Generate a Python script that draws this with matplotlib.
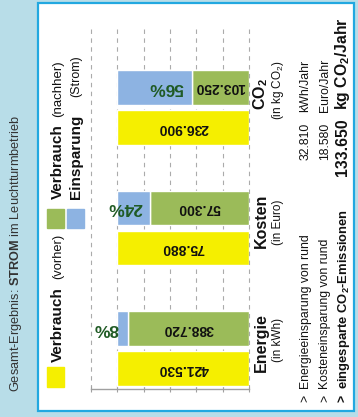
"""
Gesamt-Ergebnis STROM im Leuchtturmbetrieb: vorher / nachher / Einsparung
als gestapelte Balken (je Kategorie auf "vorher" = 100 % normiert).
Das Blatt ist quer gesetzt, alle Texte laufen von unten nach oben.
"""
import numpy as np
import matplotlib
matplotlib.use("Agg")
import matplotlib.pyplot as plt
from matplotlib.patches import Rectangle

plt.rcParams["font.family"] = ["Liberation Sans", "DejaVu Sans"]
plt.rcParams["mathtext.fontset"] = "custom"
plt.rcParams["mathtext.rm"] = "Liberation Sans"
plt.rcParams["mathtext.it"] = "Liberation Sans:italic"
plt.rcParams["mathtext.bf"] = "Liberation Sans:bold"

# ----------------------------------------------------------------------
# data
# ----------------------------------------------------------------------
categories = ["Energie", "Kosten", "CO$_\\mathbf{2}$"]
units = ["(in kWh)", "(in Euro)", "(in kg CO$_2$)"]
vorher = np.array([421530, 75880, 236900])    # Verbrauch vorher
nachher = np.array([388720, 57300, 103250])   # Verbrauch nachher
summary_text = ["Energieeinsparung von rund",
                "Kosteneinsparung von rund",
                "eingesparte CO$_\\mathbf{2}$-Emissionen"]
summary_unit = ["kWh/Jahr", "Euro/Jahr", "kg CO$_\\mathbf{2}$/Jahr"]

savings = vorher - nachher
base_pct = vorher / vorher * 100
after_pct = nachher / vorher * 100
saved_pct = np.round(savings / vorher * 100).astype(int)

# ----------------------------------------------------------------------
# style
# ----------------------------------------------------------------------
BG = "#b8dde8"
FRAME = "#22a8e0"
YELLOW = "#f5ef00"
GREEN = "#9bbb59"
BLUE = "#8db3e2"
PCT = "#1f5a24"
INK = "#111111"
GREY = "#333333"
GRID = "#ababab"

W, H = 358, 417          # canvas in px


def fx(x):
    return x / W


def fy(y):
    return 1 - y / H


def de(n):
    """German thousands separator."""
    return f"{int(n):,}".replace(",", ".")


fig = plt.figure(figsize=(W / 100, H / 100), dpi=100, facecolor=BG)

# white sheet with blue frame
fig.patches.append(Rectangle((fx(38), fy(411)), (354 - 38) / W, (411 - 3) / H,
                             transform=fig.transFigure, facecolor="white",
                             edgecolor=FRAME, lw=1.6, zorder=-10))


def vtext(x, y, s, size, weight="normal", color=INK, ha="left"):
    # x = baseline, y = start of the text (it runs upward)
    return fig.text(fx(x), fy(y), s, rotation=90, rotation_mode="anchor",
                    ha=ha, va="baseline", fontsize=size,
                    fontweight=weight, color=color)


# ----------------------------------------------------------------------
# bars
# ----------------------------------------------------------------------
ax = fig.add_axes([fx(91), fy(389), (249 - 91) / W, (389 - 27) / H])
ax.patch.set_visible(False)
ax.set_xlim(120, 0)
ax.set_ylim(-0.336, 2.668)

pos = np.arange(len(categories))
off, bh = 0.166, 0.29

ax.barh(pos - off, base_pct, height=bh, color=YELLOW, edgecolor="white", lw=1)
ax.barh(pos + off, after_pct, height=bh, color=GREEN, edgecolor="white", lw=1)
ax.barh(pos + off, base_pct - after_pct, left=after_pct, height=bh,
        color=BLUE, edgecolor="white", lw=1)

for i in pos:
    ax.text(base_pct[i] / 2, pos[i] - off, de(vorher[i]), rotation=180,
            ha="center", va="center", fontsize=10, fontweight="bold", color=INK)
    ax.text(after_pct[i] / 2, pos[i] + off, de(nachher[i]), rotation=180,
            ha="center", va="center", fontsize=10, fontweight="bold", color=INK)

pct_x = [108.8, 94.6, 63.1]      # where the savings labels sit
for i in pos:
    ax.text(pct_x[i], pos[i] + off, f"{saved_pct[i]}%", rotation=180,
            ha="center", va="center", fontsize=12.5, fontweight="bold",
            color=PCT)

ax.set_xticks(np.arange(0, 121, 20))
ax.set_yticks([])
ax.xaxis.grid(True, linestyle=(0, (4, 4)), color=GRID, lw=0.8)
for gl in ax.get_xgridlines():
    gl.set_clip_on(False)
ax.set_axisbelow(True)
ax.tick_params(axis="x", labelbottom=False, direction="inout", length=5,
               width=0.8, color="#a0a0a0")
for side in ("top", "left", "right"):
    ax.spines[side].set_visible(False)
ax.spines["bottom"].set_color("#a0a0a0")
ax.spines["bottom"].set_linewidth(1.0)

# ----------------------------------------------------------------------
# texts
# ----------------------------------------------------------------------
vtext(18.5, 392, "Gesamt-Ergebnis: $\\mathbf{STROM}$ im Leuchtturmbetrieb",
      9.2, color=GREY)

# legend
fig.patches.append(Rectangle((fx(47), fy(387)), 17 / W, 20 / H,
                             transform=fig.transFigure, color=YELLOW))
fig.patches.append(Rectangle((fx(47), fy(228)), 17 / W, 19 / H,
                             transform=fig.transFigure, color=GREEN))
fig.patches.append(Rectangle((fx(67), fy(228)), 17 / W, 19 / H,
                             transform=fig.transFigure, color=BLUE))
vtext(61.5, 362, "Verbrauch", 11, "bold")
vtext(61.5, 279, "(vorher)", 9.3)
vtext(61.5, 199, "Verbrauch", 11, "bold")
vtext(61.5, 117, "(nachher)", 9.5)
vtext(79.5, 199, "Einsparung", 11, "bold")
vtext(79.5, 97, "(Strom)", 9)

# category names below the bars
cat_start = [372, 248, 110]
unit_start = [362, 245, 120]
for i in pos:
    vtext(265.5, cat_start[i], categories[i], 11.5, "bold")
    vtext(280.5, unit_start[i], units[i], 8.5)

# summary
line_x = [308.5, 328, 346.5]
for i in pos:
    bold = i == 2
    vtext(line_x[i], 402, ">", 8.8, "bold" if bold else "normal")
    vtext(line_x[i], 389, summary_text[i], 9.4 if bold else 8.8,
          "bold" if bold else "normal")
    if bold:
        vtext(line_x[i], 118, de(savings[i]), 11.3, "bold", ha="right")
        vtext(line_x[i], 110, summary_unit[i], 11.3, "bold")
    else:
        vtext(line_x[i], 123, de(savings[i]), 8.8, ha="right")
        vtext(line_x[i], 112, summary_unit[i], 8.8)

fig.savefig("out.png", dpi=100, facecolor=BG)
